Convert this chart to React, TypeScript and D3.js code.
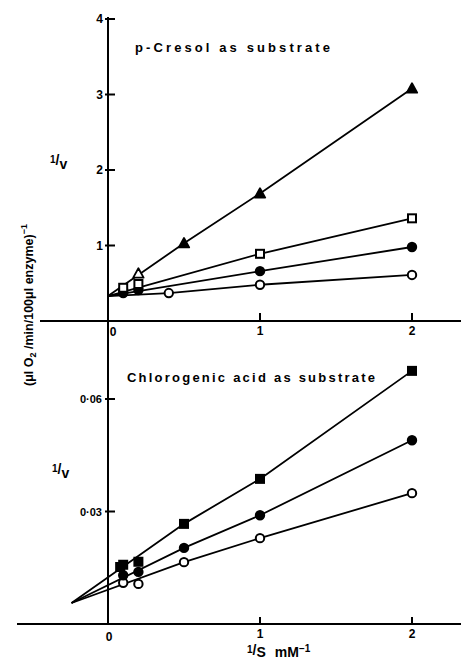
import React from "react";
import * as d3 from "d3";

// ---- data ----
// upper panel: p-Cresol as substrate (1/S in mM^-1, 1/v)
const cresolStart = [0, 0.33];
const cresolTriangle = [[0.2, 0.63], [0.5, 1.03], [1, 1.69], [2, 3.08]];
const cresolTriangleOpenX = [0.2];
const cresolSquareOpen = [[0.1, 0.44], [0.2, 0.49], [1, 0.89], [2, 1.36]];
const cresolDot = [[0.1, 0.37], [0.2, 0.41], [1, 0.66], [2, 0.98]];
const cresolCircleOpen = [[0.1, 0.41], [0.4, 0.37], [1, 0.48], [2, 0.61]];
const cresolYTicks = [1, 2, 3, 4];

// lower panel: Chlorogenic acid as substrate
const chloroStart = [-0.24, 0.0056];
const chloroSquare = [[0.08, 0.0152], [0.1, 0.0158], [0.2, 0.0166], [0.5, 0.0267], [1, 0.0387], [2, 0.0675]];
const chloroDot = [[0.1, 0.013], [0.2, 0.0139], [0.5, 0.0203], [1, 0.029], [2, 0.049]];
const chloroCircleOpen = [[0.1, 0.011], [0.2, 0.0107], [0.5, 0.0165], [1, 0.0229], [2, 0.0349]];
const chloroYTicks = [0.03, 0.06];
const chloroYTickLabels = ["0·03", "0·06"];

const xTicks = [1, 2];
const lineFromX = 0.4; // lines are drawn from the common point through the spaced-out points

const FONT = "'Liberation Sans', Arial, sans-serif";
const W = 461;
const H = 664;

export default function App() {
  const x = d3.scaleLinear().domain([0, 2]).range([108, 412]);
  const yTop = d3.scaleLinear().domain([0, 4]).range([321, 19]);
  const yBot = d3.scaleLinear().domain([0, 0.06]).range([624, 399]);

  const lineTop = d3.line<number[]>().x(d => x(d[0])).y(d => yTop(d[1]));
  const lineBot = d3.line<number[]>().x(d => x(d[0])).y(d => yBot(d[1]));

  const path = (gen: any, start: number[], pts: number[][]) =>
    gen([start, ...pts.filter(p => p[0] >= lineFromX)]);

  const circle = (cx: number, cy: number, open: boolean, k: string) => (
    <circle key={k} cx={cx} cy={cy} r={4.2} fill={open ? "#fff" : "#000"} stroke="#000" strokeWidth={2} />
  );
  const square = (cx: number, cy: number, open: boolean, k: string) => (
    <rect key={k} x={cx - 4} y={cy - 4} width={8} height={8} fill={open ? "#fff" : "#000"} stroke="#000" strokeWidth={2} />
  );
  const tri = (cx: number, cy: number, open: boolean, k: string) => {
    const s = 5.2;
    return (
      <path key={k} d={`M${cx},${cy - s}L${cx + s},${cy + s * 0.8}L${cx - s},${cy + s * 0.8}Z`}
        fill={open ? "#fff" : "#000"} stroke="#000" strokeWidth={1.8} strokeLinejoin="round" />
    );
  };

  const lineStyle = { fill: "none", stroke: "#000", strokeWidth: 1.8 };

  return (
    <svg width={W} height={H} style={{ display: "block", position: "absolute", left: 0, top: 0, background: "#fff" }}
      fontFamily={FONT} fontWeight="bold">
      <rect width={W} height={H} fill="#fff" />

      {/* axes */}
      <line x1={x(0)} x2={x(0)} y1={yTop(4) - 2} y2={yBot(0)} stroke="#000" strokeWidth={2} />
      <line x1={40} x2={461} y1={yTop(0)} y2={yTop(0)} stroke="#000" strokeWidth={2} />
      <line x1={17} x2={461} y1={yBot(0)} y2={yBot(0)} stroke="#000" strokeWidth={2} />

      {/* y ticks, upper */}
      {cresolYTicks.map(t => (
        <g key={"yt" + t}>
          <line x1={x(0) - 3} x2={x(0) + 7} y1={yTop(t)} y2={yTop(t)} stroke="#000" strokeWidth={2} />
          <text x={x(0) - 5} y={yTop(t) + 4} textAnchor="end" fontSize={12}>{t}</text>
        </g>
      ))}
      {/* y ticks, lower */}
      {chloroYTicks.map((t, i) => (
        <g key={"yb" + t}>
          <line x1={x(0) - 3} x2={x(0) + 7} y1={yBot(t)} y2={yBot(t)} stroke="#000" strokeWidth={2} />
          <text x={x(0) - 6} y={yBot(t) + 4} textAnchor="end" fontSize={11}>{chloroYTickLabels[i]}</text>
        </g>
      ))}
      {/* x ticks */}
      {xTicks.map(t => (
        <g key={"xt" + t}>
          <line x1={x(t)} x2={x(t)} y1={yTop(0) - 8} y2={yTop(0)} stroke="#000" strokeWidth={2} />
          <text x={x(t)} y={yTop(0) + 14} textAnchor="middle" fontSize={12}>{t}</text>
          <line x1={x(t)} x2={x(t)} y1={yBot(0) - 7} y2={yBot(0)} stroke="#000" strokeWidth={2} />
          <text x={x(t)} y={yBot(0) + 14} textAnchor="middle" fontSize={12}>{t}</text>
        </g>
      ))}
      <text x={x(0) + 5} y={yTop(0) + 15} textAnchor="middle" fontSize={12}>0</text>
      <text x={x(0) + 1} y={yBot(0) + 17} textAnchor="middle" fontSize={12}>0</text>

      {/* titles */}
      <text x={135} y={52} fontSize={13} textLength={195} lengthAdjust="spacing">p-Cresol  as  substrate</text>
      <text x={127} y={382} fontSize={13} textLength={248} lengthAdjust="spacing">Chlorogenic  acid  as  substrate</text>

      {/* 1/v labels */}
      <text x={50} y={163} fontSize={14}>
        <tspan fontSize={10}>1</tspan><tspan dy={2}>/</tspan><tspan dy={4}>v</tspan>
      </text>
      <text x={52} y={472} fontSize={14}>
        <tspan fontSize={10}>1</tspan><tspan dy={2}>/</tspan><tspan dy={4}>v</tspan>
      </text>

      {/* rotated y label */}
      <text transform="translate(33,305) rotate(-90)" textAnchor="middle" fontSize={12.5}>
        (μl O<tspan fontSize={9} dy={3}>2</tspan><tspan dy={-3}> /min/100μl enzyme)</tspan>
        <tspan fontSize={9} dy={-6}>−1</tspan>
      </text>

      {/* x label */}
      <text x={247} y={657} fontSize={14}>
        <tspan fontSize={10} dy={-4}>1</tspan><tspan dy={2}>/</tspan><tspan dy={2}>S</tspan>
        <tspan dx={9}>mM</tspan><tspan fontSize={10} dy={-5}>−1</tspan>
      </text>

      {/* upper lines */}
      <path d={path(lineTop, cresolStart, cresolTriangle)} {...lineStyle} />
      <path d={path(lineTop, cresolStart, cresolSquareOpen)} {...lineStyle} />
      <path d={path(lineTop, cresolStart, cresolDot)} {...lineStyle} />
      <path d={path(lineTop, cresolStart, cresolCircleOpen)} {...lineStyle} />

      {/* lower lines */}
      <path d={path(lineBot, chloroStart, chloroSquare)} {...lineStyle} />
      <path d={path(lineBot, chloroStart, chloroDot)} {...lineStyle} />
      <path d={path(lineBot, chloroStart, chloroCircleOpen)} {...lineStyle} />

      {/* upper markers */}
      {cresolCircleOpen.map((d, i) => circle(x(d[0]), yTop(d[1]), true, "co" + i))}
      {cresolDot.map((d, i) => circle(x(d[0]), yTop(d[1]), false, "cd" + i))}
      {cresolSquareOpen.map((d, i) => square(x(d[0]), yTop(d[1]), true, "cs" + i))}
      {cresolTriangle.map((d, i) => tri(x(d[0]), yTop(d[1]), cresolTriangleOpenX.includes(d[0]), "ct" + i))}

      {/* lower markers */}
      {chloroCircleOpen.map((d, i) => circle(x(d[0]), yBot(d[1]), true, "bo" + i))}
      {chloroDot.map((d, i) => circle(x(d[0]), yBot(d[1]), false, "bd" + i))}
      {chloroSquare.map((d, i) => square(x(d[0]), yBot(d[1]), false, "bs" + i))}
    </svg>
  );
}
